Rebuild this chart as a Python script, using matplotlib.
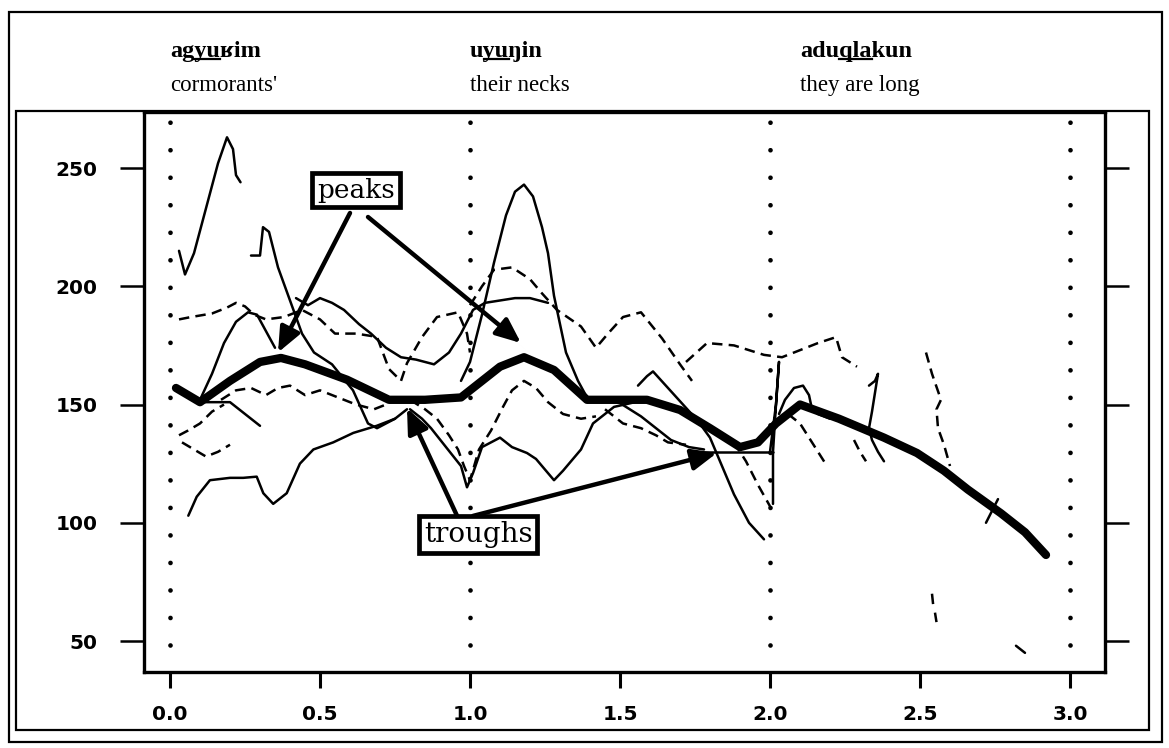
import matplotlib
matplotlib.use("Agg")
import matplotlib.pyplot as plt
from matplotlib.patches import Rectangle
from matplotlib.lines import Line2D

plt.rcParams["lines.scale_dashes"] = False

# ---- data -------------------------------------------------------------
# averaged (smoothed) F0 contour, Hz against time in seconds
mean_x = [0.02, 0.1, 0.2, 0.3, 0.37, 0.45, 0.59, 0.73, 0.85, 0.97, 1.03, 1.1, 1.18,
          1.28, 1.39, 1.5, 1.59, 1.7, 1.8, 1.9, 1.96, 2.02, 2.1, 2.23, 2.38, 2.49,
          2.58, 2.66, 2.77, 2.85, 2.92]
mean_y = [157, 151, 160, 168, 169.7, 167, 160.5, 152, 152, 153, 159, 166, 170,
          164.6, 152, 152, 152, 147.7, 140, 132, 134, 142, 150, 144, 136, 129.5,
          122, 114, 104, 96, 86.4]

# individual speaker tokens (solid)
tok1_x = [0.03, 0.05, 0.08, 0.12, 0.16, 0.19, 0.21, 0.22, 0.235]
tok1_y = [215, 205, 214, 233, 252, 263, 258, 247, 244]
tok2_x = [0.27, 0.30, 0.31, 0.33, 0.36, 0.40, 0.44, 0.48, 0.54, 0.61, 0.66, 0.69, 0.75, 0.79]
tok2_y = [213, 213, 225, 223, 208, 194, 180, 172, 167, 156, 142, 140, 144, 148]
tok3_x = [0.1, 0.14, 0.18, 0.22, 0.26, 0.29, 0.32, 0.35]
tok3_y = [152, 163, 176, 185, 189, 188, 181, 174]
tok4_x = [0.42, 0.46, 0.50, 0.54, 0.58, 0.63, 0.67, 0.72, 0.77, 0.82, 0.88, 0.93,
          0.97, 1.01, 1.05, 1.10, 1.15, 1.20, 1.26]
tok4_y = [195, 192, 195, 193, 190, 184, 180, 174, 170, 169, 167, 172,
          180, 190, 193, 194, 195, 195, 193]
tok5_x = [0.97, 1.0, 1.04, 1.08, 1.12, 1.15, 1.18, 1.21, 1.24, 1.26, 1.28, 1.32,
          1.36, 1.39, 1.44]
tok5_y = [160, 168, 188, 210, 230, 240, 243, 238, 225, 214, 196, 172, 160, 153, 151]
tok6_x = [2.33, 2.35, 2.36, 2.35, 2.34, 2.33, 2.34, 2.36, 2.38]
tok6_y = [158, 160, 163, 155, 147, 140, 135, 130, 126]
tok7_x = [2.0, 2.02, 2.03, 2.02, 2.01, 2.01]
tok7_y = [130, 150, 168, 150, 130, 108]
tok8_x = [1.78, 1.9, 2.01]
tok8_y = [130, 130, 130]
tok9_x = [2.03, 2.05, 2.08, 2.11, 2.13, 2.14, 2.16, 2.2]
tok9_y = [146, 152, 157, 158, 154, 148, 146, 144]
tok10_x = [1.56, 1.59, 1.61, 1.66, 1.71, 1.76, 1.8, 1.84, 1.88, 1.93, 1.98]
tok10_y = [158, 162, 164, 157, 150, 143, 136, 124, 112, 100, 93]
tok11_x = [0.8, 0.84, 0.87, 0.92, 0.97, 0.99, 1.01, 1.04, 1.1, 1.14, 1.19, 1.22,
           1.26, 1.28, 1.31, 1.37, 1.41, 1.48, 1.55]
tok11_y = [148, 144, 140, 132, 124, 115, 121, 132, 136, 132, 129.5, 127,
           121, 118, 122, 131, 142, 149, 151]
tok12_x = [0.061, 0.089, 0.133, 0.2, 0.244, 0.289, 0.311, 0.344, 0.389, 0.433,
           0.478, 0.544, 0.611, 0.689, 0.75]
tok12_y = [103, 111, 118, 119, 119, 119.5, 112.5, 108, 112.5, 125,
           131, 134, 138, 141, 144]
tok13_x = [0.1, 0.15, 0.2, 0.22, 0.25, 0.28, 0.3]
tok13_y = [151, 151, 151, 149, 146, 143, 141]
tok14_x = [1.45, 1.5, 1.57, 1.62, 1.67, 1.73, 1.78]
tok14_y = [152, 150.6, 145, 140, 135, 132, 131]
tok15_x = [2.72, 2.74, 2.76]
tok15_y = [100, 105, 110]
tok16_x = [2.82, 2.85]
tok16_y = [48, 45]

# individual speaker tokens (dashed)
dtok1_x = [0.03, 0.07, 0.14, 0.19, 0.22, 0.25, 0.28, 0.32, 0.38, 0.44, 0.5, 0.55,
           0.62, 0.69, 0.73, 0.77]
dtok1_y = [186, 187, 188.5, 191, 193, 191.5, 188, 186, 187, 190, 186, 180,
           180, 178.6, 165, 160]
dtok2_x = [0.77, 0.79, 0.84, 0.89, 0.96, 0.99, 1.0]
dtok2_y = [160, 167.5, 178.5, 187, 189, 180, 172]
dtok3_x = [1.0, 1.04, 1.08, 1.14, 1.2, 1.24, 1.29, 1.37, 1.42, 1.46, 1.51, 1.57,
           1.64, 1.7, 1.74]
dtok3_y = [192, 200, 207, 208, 203, 197, 190, 183, 174, 180, 187, 189,
           178, 167, 160]
dtok4_x = [1.72, 1.79, 1.88, 1.98, 2.04, 2.1, 2.16, 2.22, 2.24, 2.29]
dtok4_y = [168, 176, 175, 171, 170, 173, 176, 178.5, 170, 166]
dtok5_x = [2.52, 2.54, 2.57, 2.555, 2.56, 2.58, 2.6]
dtok5_y = [172, 163, 152, 148, 140, 133, 124]
dtok6_x = [2.54, 2.545]
dtok6_y = [70, 64]
dtok7_x = [2.55, 2.555]
dtok7_y = [62, 58]
dtok8_x = [2.28, 2.3, 2.32]
dtok8_y = [135, 130, 126]
dtok9_x = [2.06, 2.1, 2.13, 2.16, 2.19]
dtok9_y = [146, 142, 136, 130, 124]
dtok10_x = [1.88, 1.92, 1.96, 2.0]
dtok10_y = [134, 126, 116, 107]
dtok11_x = [0.8, 0.85, 0.89, 0.93, 0.96, 0.98, 1.0, 1.03, 1.07, 1.11, 1.14, 1.18,
            1.22, 1.26, 1.31, 1.37, 1.42]
dtok11_y = [152, 148, 144, 137, 131, 124, 118, 131, 139, 149, 156, 160,
            157, 151, 146, 144, 145]
dtok12_x = [0.17, 0.22, 0.27, 0.32, 0.36, 0.4, 0.45, 0.5, 0.56, 0.62, 0.68, 0.72]
dtok12_y = [152, 156, 157, 154, 157, 158, 154, 156, 153, 150, 148, 150]
dtok13_x = [0.03, 0.06, 0.1, 0.14, 0.18]
dtok13_y = [137, 139, 142, 147, 150]
dtok14_x = [0.04, 0.08, 0.12, 0.16, 0.2]
dtok14_y = [134, 131, 128, 130, 133]
dtok15_x = [1.45, 1.51, 1.57, 1.62, 1.66, 1.72]
dtok15_y = [148, 142, 140, 137, 134, 133]

solid_tokens = [(tok1_x, tok1_y), (tok2_x, tok2_y), (tok3_x, tok3_y), (tok4_x, tok4_y),
                (tok5_x, tok5_y), (tok6_x, tok6_y), (tok7_x, tok7_y), (tok8_x, tok8_y),
                (tok9_x, tok9_y), (tok10_x, tok10_y), (tok11_x, tok11_y),
                (tok12_x, tok12_y), (tok13_x, tok13_y), (tok14_x, tok14_y),
                (tok15_x, tok15_y), (tok16_x, tok16_y)]
dashed_tokens = [(dtok1_x, dtok1_y), (dtok2_x, dtok2_y), (dtok3_x, dtok3_y),
                 (dtok4_x, dtok4_y), (dtok5_x, dtok5_y), (dtok6_x, dtok6_y),
                 (dtok7_x, dtok7_y), (dtok8_x, dtok8_y), (dtok9_x, dtok9_y),
                 (dtok10_x, dtok10_y), (dtok11_x, dtok11_y), (dtok12_x, dtok12_y),
                 (dtok13_x, dtok13_y), (dtok14_x, dtok14_y), (dtok15_x, dtok15_y)]

word_boundaries = [0, 1, 2, 3]
x_ticks = [0.0, 0.5, 1.0, 1.5, 2.0, 2.5, 3.0]
x_tick_labels = ["0.0", "0.5", "1.0", "1.5", "2.0", "2.5", "3.0"]
y_ticks = [50, 100, 150, 200, 250]
y_tick_labels = ["50", "100", "150", "200", "250"]

words = ["agyuʁim", "uyuŋin", "aduqlakun"]
word_stress = [(2, 4), (1, 3), (3, 6)]
glosses = ["cormorants'", "their necks", "they are long"]
word_left_px = [170, 470, 800]

peak_label_xy = (0.62, 240.7)
peak_targets = [(0.36, 172), (1.17, 176)]
peak_starts = [(0.6, 231), (0.66, 229.3)]
trough_label_xy = (1.027, 95.2)
trough_targets = [(0.79, 148.5), (1.823, 129.5)]
trough_starts = [(0.957, 102.9), (1.01, 102.9)]

# ---- figure -----------------------------------------------------------
W, H = 1169, 748
fig = plt.figure(figsize=(W / 100, H / 100), dpi=100)
fig.patch.set_facecolor("white")


def fx(px):
    return px / W


def fy(py):
    return 1 - py / H


# page frames
fig.add_artist(Rectangle((fx(9), fy(742)), (1162 - 9) / W, (742 - 12) / H,
                         transform=fig.transFigure, fill=False, lw=1.6, ec="black"))
fig.add_artist(Rectangle((fx(16), fy(730)), (1149 - 16) / W, (730 - 111) / H,
                         transform=fig.transFigure, fill=False, lw=1.6, ec="black"))

ax = fig.add_axes([fx(144), fy(672), (1105 - 144) / W, (672 - 112) / H])
ax.set_xlim(-0.0867, 3.1167)
ax.set_ylim(36.9, 273.7)
for sp in ax.spines.values():
    sp.set_linewidth(2.4)

tick_font = dict(family="DejaVu Sans", weight="bold", size=14.5)
ax.set_xticks(x_ticks)
ax.set_xticklabels(x_tick_labels, fontdict=tick_font)
ax.set_yticks(y_ticks)
ax.set_yticklabels(y_tick_labels, fontdict=tick_font)
ax.tick_params(axis="x", direction="out", length=11.5, width=2.2, pad=12)
ax.tick_params(axis="y", direction="out", length=17.5, width=1.8, pad=16,
               right=True, labelright=False)

# word boundaries
for xb in word_boundaries:
    ax.plot([xb, xb], [48.3, 272], color="black", lw=3.4,
            linestyle=(0, (0.01, 19.8)), dash_capstyle="round", zorder=1)

# individual tokens
for xs, ys in solid_tokens:
    ax.plot(xs, ys, color="black", lw=1.8, solid_capstyle="round", zorder=2)
for xs, ys in dashed_tokens:
    ax.plot(xs, ys, color="black", lw=1.8, linestyle=(0, (7.5, 4.5)), zorder=2)

# mean contour
ax.plot(mean_x, mean_y, color="black", lw=6, solid_capstyle="round",
        solid_joinstyle="round", zorder=3)

# annotations
arrow_kw = dict(arrowstyle="-|>,head_length=0.75,head_width=0.32", lw=3.2,
                color="black", shrinkA=0, shrinkB=0, mutation_scale=20)
for start, tip in zip(peak_starts, peak_targets):
    ax.annotate("", xy=tip, xytext=start, arrowprops=arrow_kw, zorder=4)
for start, tip in zip(trough_starts, trough_targets):
    ax.annotate("", xy=tip, xytext=start, arrowprops=arrow_kw, zorder=4)

box_kw = dict(boxstyle="square,pad=0.18", fc="white", ec="black", lw=3.4)
ax.text(*peak_label_xy, "peaks", ha="center", va="center", fontsize=19,
        family="DejaVu Serif", bbox=box_kw, zorder=6)
ax.text(*trough_label_xy, "troughs", ha="center", va="center", fontsize=20,
        family="DejaVu Serif", bbox=box_kw, zorder=6)

# word and gloss header
serif = ["Liberation Serif", "DejaVu Serif"]
renderer = fig.canvas.get_renderer()


def text_width(s, size, weight):
    if not s:
        return 0.0
    tmp = fig.text(0, 0, s, fontsize=size, fontweight=weight, family=serif)
    w = tmp.get_window_extent(renderer).width
    tmp.remove()
    return w


for word, (u0, u1), gloss, left in zip(words, word_stress, glosses, word_left_px):
    fig.text(fx(left), fy(57), word, fontsize=17.5, fontweight="bold", family=serif,
             ha="left", va="baseline")
    x0 = left + text_width(word[:u0], 17.5, "bold")
    x1 = left + text_width(word[:u1], 17.5, "bold")
    fig.add_artist(Line2D([fx(x0), fx(x1)], [fy(59), fy(59)], lw=1.6, color="black"))
    fig.text(fx(left), fy(91), gloss, fontsize=16.5, family=serif,
             ha="left", va="baseline")

fig.savefig("out.png", dpi=100, facecolor="white")
